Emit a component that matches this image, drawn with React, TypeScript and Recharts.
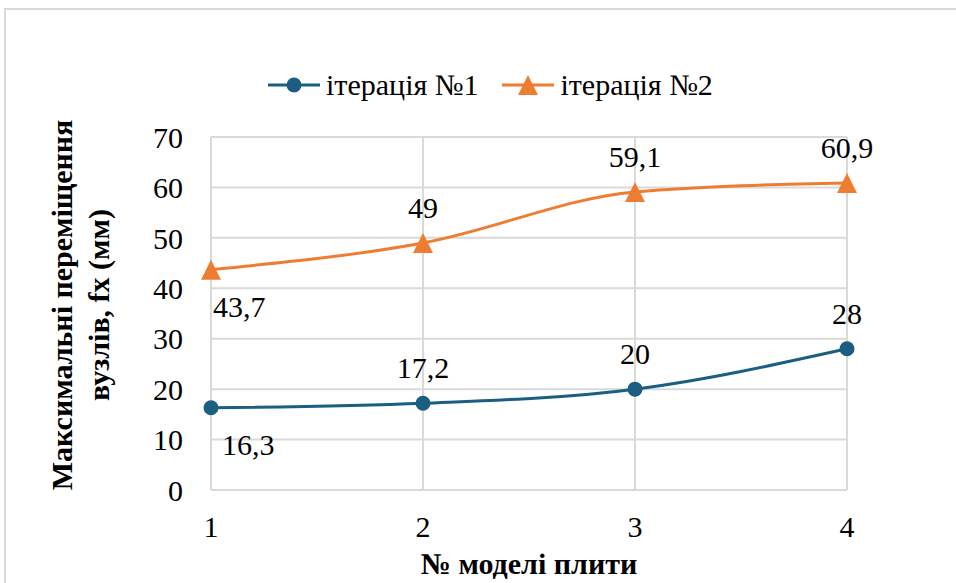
import {
  LineChart,
  Line,
  XAxis,
  YAxis,
  CartesianGrid,
  LabelList,
  Label,
} from "recharts";

const models = [1, 2, 3, 4];
const iteration1 = [16.3, 17.2, 20, 28];
const iteration2 = [43.7, 49, 59.1, 60.9];
const yTicks = [0, 10, 20, 30, 40, 50, 60, 70];

const SERIES1 = "ітерація №1";
const SERIES2 = "ітерація №2";
const BLUE = "#1b5e82";
const ORANGE = "#ed7d31";
const GRID = "#d9d9d9";

const data = models.map((m, i) => ({
  model: m,
  it1: iteration1[i],
  it2: iteration2[i],
}));

const fmt = (v: number) => String(v).replace(".", ",");

const css = `
.serif-chart, .serif-chart * { font-family: "Liberation Serif", "Times New Roman", Tinos, serif !important; }
`;

function Triangle(props: any) {
  const { cx, cy } = props;
  if (cx == null || cy == null) return null;
  return (
    <path
      d={`M${cx},${cy - 10} L${cx + 10},${cy + 10} L${cx - 10},${cy + 10} Z`}
      fill={ORANGE}
    />
  );
}

function Dot(props: any) {
  const { cx, cy } = props;
  if (cx == null || cy == null) return null;
  return <circle cx={cx} cy={cy} r={7.5} fill={BLUE} />;
}

// first point's label sits below-right, the rest above
const makeLabel = (firstDx: number) => (props: any) => {
  const { x, y, value, index } = props;
  if (index === 0) {
    return (
      <text x={x + firstDx} y={y + 47} fontSize={30} fill="#000" textAnchor="start">
        {fmt(value)}
      </text>
    );
  }
  return (
    <text x={x} y={y - 25} fontSize={30} fill="#000" textAnchor="middle">
      {fmt(value)}
    </text>
  );
};

function LegendBox() {
  const item = (color: string, label: string, marker: "dot" | "tri") => (
    <div style={{ display: "flex", alignItems: "center", marginRight: 24 }}>
      <svg width={54} height={24}>
        <line x1={0} y1={12} x2={52} y2={12} stroke={color} strokeWidth={3} />
        {marker === "dot" ? (
          <circle cx={26} cy={12} r={7.5} fill={color} />
        ) : (
          <path d="M26,2 L36,22 L16,22 Z" fill={color} />
        )}
      </svg>
      <span style={{ fontSize: 30, color: "#000", marginLeft: 4, lineHeight: "34px" }}>{label}</span>
    </div>
  );
  return (
    <div style={{ position: "absolute", top: 68, left: 268, display: "flex", alignItems: "center" }}>
      {item(BLUE, SERIES1, "dot")}
      {item(ORANGE, SERIES2, "tri")}
    </div>
  );
}

function YTitle() {
  const cy = 305;
  return (
    <g>
      <text x={72} y={cy} transform={`rotate(-90 72 ${cy})`} textAnchor="middle" fontSize={30} fontWeight="bold" fill="#000">
        Максимальні переміщення
      </text>
      <text x={109} y={cy} transform={`rotate(-90 109 ${cy})`} textAnchor="middle" fontSize={30} fontWeight="bold" fill="#000">
        вузлів, fx (мм)
      </text>
    </g>
  );
}

function XTitle() {
  return (
    <text x={529} y={574} fontSize={30} fontWeight="bold" fill="#000" textAnchor="middle">
      № моделі плити
    </text>
  );
}

export default function App() {
  return (
    <div
      className="serif-chart"
      style={{ position: "absolute", left: 0, top: 0, width: 956, height: 583, overflow: "hidden", background: "#fff" }}
    >
      <style>{css}</style>
      <div
        style={{
          position: "absolute",
          left: 4,
          top: 8,
          width: 1000,
          height: 700,
          border: `2px solid ${GRID}`,
        }}
      />
      <LegendBox />
      <div style={{ position: "absolute", left: 0, top: 0 }}>
        <LineChart
          width={956}
          height={583}
          data={data}
          margin={{ top: 137, right: 109, bottom: 0, left: 0 }}
        >
          <CartesianGrid stroke={GRID} strokeWidth={2} />
          <XAxis
            dataKey="model"
            type="number"
            domain={[1, 4]}
            ticks={models}
            height={93}
            axisLine={{ stroke: GRID, strokeWidth: 2 }}
            tickLine={false}
            tickSize={0}
            tickMargin={26}
            tick={{ fill: "#000", fontSize: 30 }}
          >
            <Label content={<XTitle />} />
          </XAxis>
          <YAxis
            width={211}
            domain={[0, 70]}
            ticks={yTicks}
            axisLine={{ stroke: GRID, strokeWidth: 2 }}
            tickLine={false}
            tickSize={0}
            tickMargin={28}
            tick={{ fill: "#000", fontSize: 30 }}
          >
            <Label content={<YTitle />} />
          </YAxis>
          <Line
            type="monotone"
            dataKey="it1"
            name={SERIES1}
            stroke={BLUE}
            strokeWidth={3}
            dot={<Dot />}
            activeDot={false}
            isAnimationActive={false}
          >
            <LabelList dataKey="it1" content={makeLabel(11)} />
          </Line>
          <Line
            type="monotone"
            dataKey="it2"
            name={SERIES2}
            stroke={ORANGE}
            strokeWidth={3}
            dot={<Triangle />}
            activeDot={false}
            isAnimationActive={false}
          >
            <LabelList dataKey="it2" content={makeLabel(2)} />
          </Line>
        </LineChart>
      </div>
    </div>
  );
}
